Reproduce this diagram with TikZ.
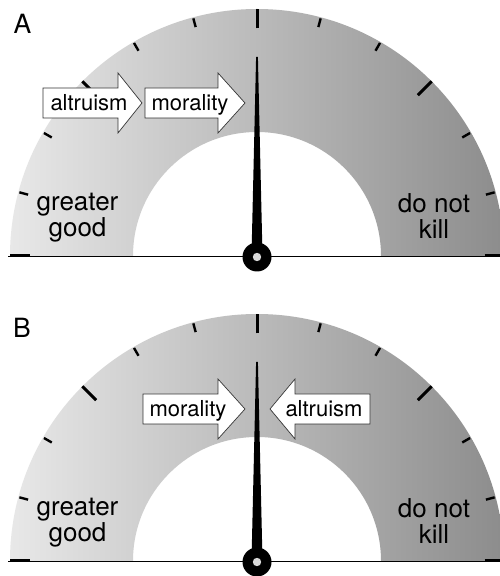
\documentclass[tikz,border=0pt]{standalone}
\usepackage{fontspec}
\setmainfont{TeX Gyre Heros}
\definecolor{gL}{gray}{0.91}
\definecolor{gM}{gray}{0.80}
\definecolor{gR}{gray}{0.55}
\definecolor{hubdot}{gray}{0.85}
\tikzset{
  bandshade/.style={left color=gL, middle color=gM, right color=gR},
  majortick/.style={line width=3pt},
  minortick/.style={line width=2.4pt},
  baseln/.style={line width=0.9pt},
  arrowbox/.style={draw=black!80, line width=0.7pt, fill=white, line join=miter},
  arrowtext/.style={anchor=base, inner sep=0pt, font=\fontsize{22}{24}\selectfont},
  sidetext/.style={align=center, inner sep=0pt, font=\fontsize{26}{26}\selectfont},
  paneltext/.style={inner sep=0pt, font=\fontsize{26.5}{27}\selectfont}
}
\newcommand{\mygauge}{%
  \shade[bandshade] (-247,0) arc[start angle=180,end angle=0,radius=247]
     -- (124,0) arc[start angle=0,end angle=180,radius=124] -- cycle;
  \draw[baseln] (-249,0) -- (250,0);
  \foreach \a in {0,45,90,135,180}{\draw[majortick] (\a:227.5) -- (\a:247);}
  \foreach \a in {15,30,60,75,105,120,150,165}{\draw[minortick] (\a:237) -- (\a:246);}
  \fill (-5.5,0) -- (-0.9,199) -- (0.9,199) -- (5.5,0) -- cycle;
  \fill (0,-1) circle (14.5);
  \fill[hubdot] (0,-1) circle (4.2);
}
\begin{document}
\begin{tikzpicture}[x=1pt,y=1pt]
\useasboundingbox (0,0) rectangle (500,576);
\clip (0,0) rectangle (500,576);
\fill[white] (0,0) rectangle (500,576);
% panel A
\begin{scope}[shift={(257,320)}]
  \mygauge
\end{scope}
\node[paneltext] (labA) at (22.5,552.5) {A};
\node[sidetext] (ggA) at (77.5,358.5) {greater\\good};
\node[sidetext] (dnkA) at (434,359.5) {do not\\kill};
\draw[arrowbox] (43,488) -- (118,488) -- (118,503) -- (142,473) -- (118,443) -- (118,458) -- (43,458) -- cycle;
\node[arrowtext] (altA) at (89,465) {altruism};
\draw[arrowbox] (145,488) -- (218,488) -- (218,503) -- (245,473) -- (218,443) -- (218,458) -- (145,458) -- cycle;
\node[arrowtext] (morA) at (190,465) {morality};
% panel B
\begin{scope}[shift={(257,15)}]
  \mygauge
\end{scope}
\node[paneltext] (labB) at (22,248.5) {B};
\node[sidetext] (ggB) at (77.5,53.5) {greater\\good};
\node[sidetext] (dnkB) at (434,54.5) {do not\\kill};
\draw[arrowbox] (143,182) -- (218,182) -- (218,197) -- (245,167) -- (218,137) -- (218,152) -- (143,152) -- cycle;
\node[arrowtext] (morB) at (188,159) {morality};
\draw[arrowbox] (370,182) -- (295,182) -- (295,197) -- (270,167) -- (295,137) -- (295,152) -- (370,152) -- cycle;
\node[arrowtext] (altB) at (324,159) {altruism};
\end{tikzpicture}
\end{document}
